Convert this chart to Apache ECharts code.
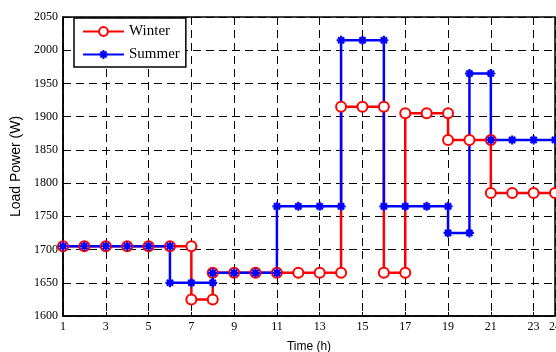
<!DOCTYPE html>
<html><head><meta charset="utf-8">
<script src="https://cdn.jsdelivr.net/npm/echarts@6/dist/echarts.min.js"></script>
<style>html,body{margin:0;padding:0;background:#fff}#c{width:556px;height:352px}</style>
</head><body><div id="c"></div>
<script>
var winterX = [1,2,3,4,5,6,7, 7,8, 8,9,10,11,12,13,14, 14,15,16, 16,17, 17,18,19, 19,20,21, 21,22,23,24];
var winterY = [1705,1705,1705,1705,1705,1705,1705, 1625,1625, 1665,1665,1665,1665,1665,1665,1665, 1915,1915,1915, 1665,1665, 1905,1905,1905, 1865,1865,1865, 1785,1785,1785,1785];
var summerX = [1,2,3,4,5,6, 6,7,8, 8,9,10,11, 11,12,13,14, 14,15,16, 16,17,18,19, 19,20, 20,21, 21,22,23,24];
var summerY = [1705,1705,1705,1705,1705,1705, 1650,1650,1650, 1665,1665,1665,1665, 1765,1765,1765,1765, 2015,2015,2015, 1765,1765,1765,1765, 1725,1725, 1965,1965, 1865,1865,1865,1865];
var xTicks = [1,3,5,7,9,11,13,15,17,19,21,23,24];
var seriesNames = ['Winter','Summer'];

function pairs(xs, ys){ return xs.map(function(x,i){ return [x, ys[i]]; }); }
var star = 'path://M5,0L5,10M0,5L10,5M1.6,1.6L8.4,8.4M8.4,1.6L1.6,8.4';
var chart = echarts.init(document.getElementById('c'), null, {renderer:'canvas'});
var serif = 'Liberation Serif';
var sans = 'Liberation Sans';
chart.setOption({
  animation:false,
  backgroundColor:'#fff',
  grid:{left:63, top:17, right:1, bottom:36, show:true, borderColor:'#000', borderWidth:1.5, backgroundColor:'transparent', containLabel:false, outerBoundsMode:'none'},
  legend:{
    left:74, top:18, orient:'vertical', itemWidth:41, itemHeight:11, itemGap:8,
    padding:[6,6,5,8], borderColor:'#000', borderWidth:1.5, backgroundColor:'#fff',
    textStyle:{fontFamily:serif, fontSize:15, color:'#000'},
    data:seriesNames
  },
  xAxis:{
    type:'value', min:1, max:24,
    name:'Time (h)', nameLocation:'middle', nameGap:25,
    nameTextStyle:{fontFamily:sans, fontSize:12, color:'#000'},
    axisLine:{show:true, lineStyle:{color:'#000', width:1.5}},
    axisTick:{show:true, inside:true, length:4, customValues:xTicks, lineStyle:{color:'#000'}},
    axisLabel:{customValues:xTicks, fontFamily:serif, fontSize:12, color:'#000', margin:5},
    splitLine:{show:true, lineStyle:{color:'#000', type:[8,5], width:1}}
  },
  yAxis:{
    type:'value', min:1600, max:2050, interval:50,
    name:'Load Power (W)', nameLocation:'middle', nameGap:30,
    nameTextStyle:{fontFamily:sans, fontSize:14, color:'#000'},
    axisLine:{show:true, lineStyle:{color:'#000', width:1.5}},
    axisTick:{show:true, inside:true, length:4, lineStyle:{color:'#000'}},
    axisLabel:{fontFamily:serif, fontSize:12, color:'#000', margin:5, formatter:function(v){return String(v);}},
    splitLine:{show:true, lineStyle:{color:'#000', type:[8,5], width:1}}
  },
  series:[
    {name:seriesNames[0], type:'line', data:pairs(winterX, winterY),
     symbol:'emptyCircle', symbolSize:10, color:'#ff0000',
     lineStyle:{color:'#ff0000', width:2.5},
     itemStyle:{color:'#ff0000', borderColor:'#ff0000', borderWidth:2}},
    {name:seriesNames[1], type:'line', data:pairs(summerX, summerY),
     symbol:star, symbolSize:9, color:'#0000ff',
     lineStyle:{color:'#0000ff', width:2.5},
     itemStyle:{color:'#0000ff', borderColor:'#0000ff', borderWidth:2.2}}
  ]
});
</script></body></html>
